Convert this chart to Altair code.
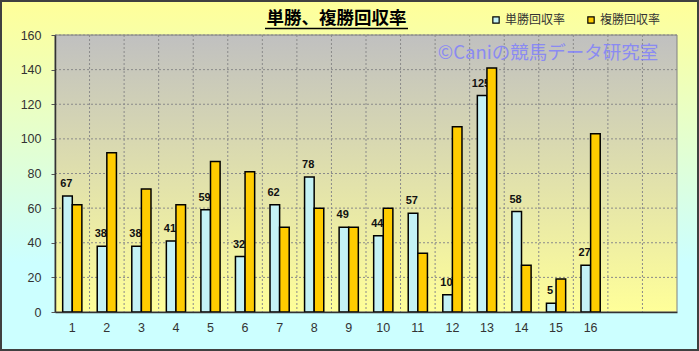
import altair as alt
import pandas as pd

# ---- data ----
races = list(range(1, 17))
tansho = [67, 38, 38, 41, 59, 32, 62, 78, 49, 44, 57, 10, 125, 58, 5, 27]
fukusho = [62, 92, 71, 62, 87, 81, 49, 60, 49, 60, 34, 107, 141, 27, 19, 103]
series_names = ["単勝回収率", "複勝回収率"]
series_colors = ["#C4F2F6", "#FFCC00"]
x_domain = list(range(1, 19))
y_ticks = [0, 20, 40, 60, 80, 100, 120, 140, 160]
title_text = "単勝、複勝回収率"
watermark_text = "©Caniの競馬データ研究室"

W, H = 622, 277
CJK = "Noto Sans CJK JP"

df_t = pd.DataFrame({"race": races, "value": tansho, "series": series_names[0]})
df_f = pd.DataFrame({"race": races, "value": fukusho, "series": series_names[1]})
df_ygrid = pd.DataFrame({"value": y_ticks[1:]})
df_xgrid = pd.DataFrame({"race": x_domain[1:]})
one = pd.DataFrame({"k": [0]})

x_axis = alt.Axis(title=None, labelExpr="datum.value > 16 ? '' : datum.label",
                  labelAngle=0, ticks=False, labelPadding=9, domainColor="#333333",
                  domainWidth=1.5, labelFont="Liberation Sans", labelFontSize=12.5,
                  labelColor="#333333", grid=False, zindex=1)
y_axis = alt.Axis(title=None, values=y_ticks, tickSize=4, tickColor="#555555",
                  labelPadding=10, domainColor="#333333", domainWidth=1.5,
                  labelFont="Liberation Sans", labelFontSize=12.5, labelColor="#333333",
                  grid=False, zindex=1)
x_scale = alt.Scale(domain=x_domain, paddingInner=0, paddingOuter=0)
y_scale = alt.Scale(domain=[0, 160], nice=False)

X = alt.X("race:O", scale=x_scale, axis=x_axis)
Y = alt.Y("value:Q", scale=y_scale, axis=y_axis)

legend_def = alt.Legend(orient="none", legendX=435, legendY=-21,
                        direction="horizontal", title=None,
                        labelFont=CJK, labelFontSize=12, labelColor="#333333",
                        symbolType="square", symbolSize=40, symbolStrokeWidth=1.2,
                        columnPadding=19, labelOffset=3, padding=0)
fill_enc = alt.Fill("series:N", scale=alt.Scale(domain=series_names, range=series_colors),
                    legend=legend_def)
stroke_enc = alt.Stroke("series:N", scale=alt.Scale(domain=series_names, range=["#000000", "#000000"]),
                        legend=legend_def)

outer = alt.Chart(one).mark_rect(
    fill=alt.Gradient(gradient="linear", x1=0, x2=0, y1=0, y2=1,
                      stops=[alt.GradientStop(color="#FFFF99", offset=0),
                             alt.GradientStop(color="#CCFFFF", offset=0.75),
                             alt.GradientStop(color="#CCFFFF", offset=1)]),
    stroke="#404040", strokeWidth=2
).encode(x=alt.value(-54), x2=alt.value(W + 21), y=alt.value(-34), y2=alt.value(H + 38))

plot_bg = alt.Chart(one).mark_rect(
    fill=alt.Gradient(gradient="linear", x1=0, x2=0, y1=0, y2=1,
                      stops=[alt.GradientStop(color="#C0C0C0", offset=0),
                             alt.GradientStop(color="#FFFF99", offset=1)]),
    stroke="#808080", strokeWidth=1
).encode(x=alt.value(0), x2=alt.value(W), y=alt.value(0), y2=alt.value(H))

ygrid = alt.Chart(df_ygrid).mark_rule(color="#8A8A8A", strokeDash=[2, 2], strokeWidth=1).encode(
    y=Y, x=alt.value(0), x2=alt.value(W))

xgrid = alt.Chart(df_xgrid).mark_rule(color="#8A8A8A", strokeDash=[2, 2], strokeWidth=1).encode(
    x=alt.X("race:O", scale=x_scale, axis=x_axis, bandPosition=0),
    y=alt.value(0), y2=alt.value(H))

watermark = alt.Chart(one).mark_text(
    text=watermark_text, font=CJK, fontSize=18.5, color="#7D7DFF", opacity=0.8,
    align="center", baseline="middle"
).encode(x=alt.value(493), y=alt.value(18))

bars_t = alt.Chart(df_t).mark_bar(width=9.6, xOffset=-4.8, strokeWidth=1.5).encode(
    x=X, y=Y, fill=fill_enc, stroke=stroke_enc)

labels_t = alt.Chart(df_t).mark_text(
    font="Liberation Sans", fontSize=11, fontWeight="bold", color="#111111",
    baseline="middle", dy=-12, xOffset=-6
).encode(x=X, y=Y, text="value:Q")

bars_f = alt.Chart(df_f).mark_bar(width=9.6, xOffset=4.8, strokeWidth=1.5).encode(
    x=X, y=Y, fill=fill_enc, stroke=stroke_enc)

title = alt.Chart(one).mark_text(
    text=title_text, font=CJK, fontSize=17.5, fontWeight="bold", color="black",
    align="center", baseline="middle"
).encode(x=alt.value(281.5), y=alt.value(-16))

underline = alt.Chart(one).mark_rule(color="black", strokeWidth=1.5).encode(
    x=alt.value(210), x2=alt.value(353), y=alt.value(-6.5))

chart = alt.layer(outer, plot_bg, ygrid, xgrid, watermark, bars_t, labels_t, bars_f,
                  title, underline).properties(
    width=W, height=H,
    autosize=alt.AutoSizeParams(type="none"),
    padding={"left": 55, "top": 35, "right": 22, "bottom": 39},
).configure_view(stroke=None)

chart.save("out.html", embed_options={"renderer": "svg", "actions": False})
